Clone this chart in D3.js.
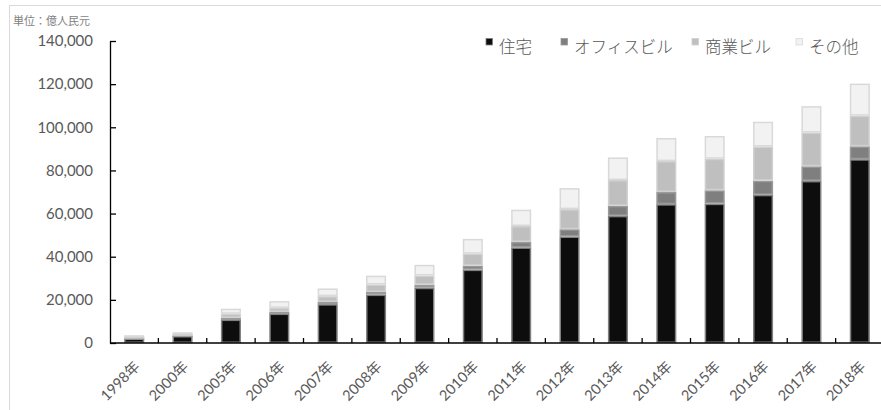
<!DOCTYPE html>
<html><head><meta charset="utf-8">
<script src="https://cdn.jsdelivr.net/npm/d3@7"></script>
<style>
body{margin:0;background:#fff;}
svg{display:block;}
</style></head>
<body>
<svg id="c" width="881" height="410"></svg>
<script>
const years = ["1998年","2000年","2005年","2006年","2007年","2008年","2009年","2010年","2011年","2012年","2013年","2014年","2015年","2016年","2017年","2018年"];
const seriesNames = ["住宅","オフィスビル","商業ビル","その他"];
const residential = [2082,3312,10861,13638,18005,22441,25614,34026,44320,49374,58951,64352,64595,68704,75148,85192];
const office      = [380,300,750,750,1000,1200,1378,1807,2544,3367,4652,5641,6210,6533,6761,5996];
const commercial  = [500,600,1950,1900,2700,3500,4275,5599,7370,9312,11945,14346,14607,15838,15640,14177];
const other       = [652,772,2348,3135,3584,4062,4975,6827,7562,9751,10465,10697,10567,11506,12250,14899];
const yTicks = [0,20000,40000,60000,80000,100000,120000,140000];
const unitLabel = "単位：億人民元";

const fills = ["#0d0d0d","#7f7f7f","#bfbfbf","#f2f2f2"];
const strokes = ["#808080","#9a9a9a","#d0d0d0","#d9d9d9"];

const svg = d3.select("#c");
const jp = "'Noto Sans CJK JP', sans-serif";
const num = "Lato, 'Noto Sans CJK JP', sans-serif";

// frame
svg.append("rect").attr("x",9.5).attr("y",5.5).attr("width",880).attr("height",420)
  .attr("fill","none").attr("stroke","#d9d9d9").attr("stroke-width",1);

const x0 = 110, x1 = 884, yBase = 343, yTop = 41;
const x = d3.scaleBand().domain(years).range([x0,x1]).paddingInner(0.585).paddingOuter(0.2925);
const y = d3.scaleLinear().domain([0,140000]).range([yBase,yTop]);

const table = years.map((yr,i)=>({year:yr, s0:residential[i], s1:office[i], s2:commercial[i], s3:other[i]}));
const stack = d3.stack().keys(["s0","s1","s2","s3"])(table);

const g = svg.append("g");
stack.forEach((layer,k)=>{
  g.selectAll(null).data(layer).enter().append("rect")
    .attr("x",d=>x(d.data.year)+0.75)
    .attr("y",d=>y(d[1])+0.75)
    .attr("width",x.bandwidth()-1.5)
    .attr("height",d=>Math.max(0.5,y(d[0])-y(d[1])-1.5))
    .attr("fill",fills[k])
    .attr("stroke",strokes[k])
    .attr("stroke-width",1.5);
});

// y axis
const yAxis = svg.append("g").attr("transform",`translate(${x0},0)`)
  .call(d3.axisLeft(y).tickValues(yTicks).tickFormat(d3.format(",")).tickSizeInner(-6).tickSizeOuter(0).tickPadding(17));
yAxis.select(".domain").attr("stroke","#000").attr("stroke-width",1.3);
yAxis.selectAll(".tick line").attr("stroke","#000").attr("stroke-width",1.3);
yAxis.selectAll("text").attr("font-family",num).attr("font-size","15px").attr("fill","#595959");

// x axis
const xAxis = svg.append("g").attr("transform",`translate(0,${yBase})`)
  .call(d3.axisBottom(x).tickSize(0).tickPadding(0));
xAxis.select(".domain").attr("stroke","#000").attr("stroke-width",1.5).attr("d",`M${x0},0H881`);
xAxis.selectAll("text")
  .attr("font-family",num).attr("font-size","14.5px").attr("fill","#595959")
  .attr("text-anchor","end")
  .attr("y",0)
  .attr("dy","0.35em")
  .attr("transform","translate(3,21) rotate(-45)");
// category boundary ticks (pointing up)
const step = x.step();
xAxis.selectAll(null).data(years.slice(1)).enter().append("line")
  .attr("x1",(d)=>x(d)-x.paddingInner()*step/2 ).attr("x2",(d)=>x(d)-x.paddingInner()*step/2)
  .attr("y1",0).attr("y2",-5).attr("stroke","#000").attr("stroke-width",1.3);

// unit label
svg.append("text").attr("x",13).attr("y",25).text(unitLabel)
  .attr("font-family",jp).attr("font-size","11px").attr("fill","#7f7f7f");

// legend
const legendX = [486,561,692,796];
const lg = svg.append("g");
seriesNames.forEach((n,k)=>{
  lg.append("rect").attr("x",legendX[k]).attr("y",38.5).attr("width",6.5).attr("height",6.5)
    .attr("fill",fills[k]).attr("stroke",strokes[k]).attr("stroke-width",0.8);
  lg.append("text").attr("x",legendX[k]+13).attr("y",53).text(n)
    .attr("font-family",jp).attr("font-size","16.5px").attr("font-weight",300).attr("fill","#595959");
});
</script>
</body></html>
